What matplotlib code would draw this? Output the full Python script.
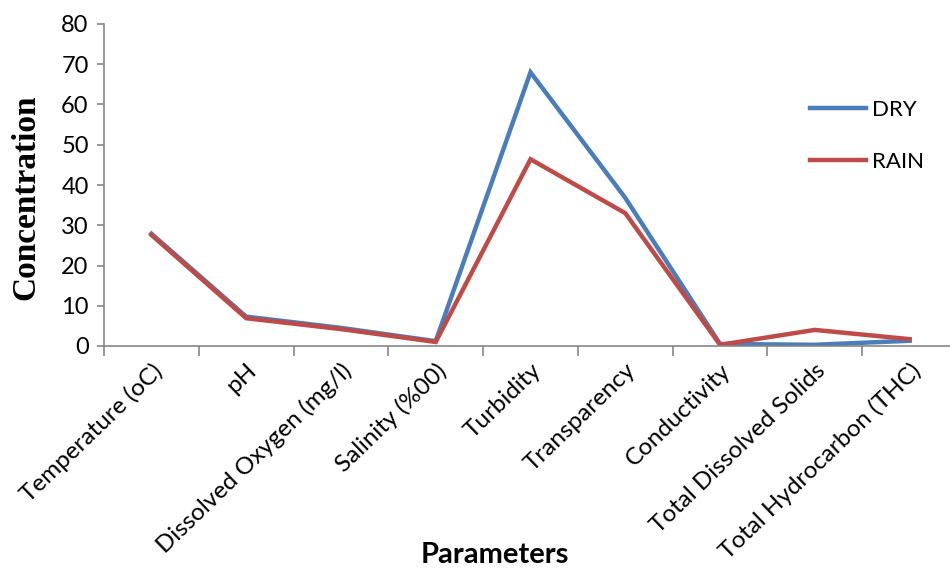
import matplotlib
matplotlib.use("Agg")
import matplotlib.pyplot as plt

categories = ["Temperature (oC)", "pH", "Dissolved Oxygen (mg/l)", "Salinity (%00)",
              "Turbidity", "Transparency", "Conductivity", "Total Dissolved Solids",
              "Total Hydrocarbon (THC)"]
dry = [27.9, 7.3, 4.5, 1.2, 68.0, 36.8, 0.5, 0.3, 1.3]
rain = [27.6, 6.9, 4.2, 1.0, 46.4, 33.0, 0.3, 4.0, 1.7]
yticks = [0, 10, 20, 30, 40, 50, 60, 70, 80]

plt.rcParams['font.family'] = ['Lato', 'DejaVu Sans']

fig = plt.figure(figsize=(9.5, 5.74), dpi=100)
ax = fig.add_axes([104/950, 1-346/574, (957-104)/950, (346-24)/574])

x = list(range(len(categories)))
ax.plot(x, dry, color='#4A7EBB', lw=3.2, label='DRY', solid_joinstyle='miter')
ax.plot(x, rain, color='#BE4B48', lw=3.2, label='RAIN', solid_joinstyle='miter')

ax.set_xlim(-0.5, len(categories) - 0.5)
ax.set_ylim(0, 80)
ax.set_yticks(yticks)
ax.set_yticklabels([str(v) for v in yticks], fontsize=17)

ax.set_xticks([i - 0.5 for i in range(len(categories))])
ax.set_xticklabels([])
ax.set_xticks(x, minor=True)
ax.set_xticklabels(categories, minor=True, rotation=44, ha='right',
                   rotation_mode='anchor', fontsize=17.5)
ax.tick_params(axis='x', which='minor', length=0, pad=10)
ax.tick_params(axis='x', which='major', length=7, color='#868686', width=1.2)
ax.tick_params(axis='y', length=5, color='#868686', width=1.2, pad=6)

for s in ['top', 'right']:
    ax.spines[s].set_visible(False)
for s in ['left', 'bottom']:
    ax.spines[s].set_color('#868686')
    ax.spines[s].set_linewidth(1.2)

fig.text(26/950, 1-197/574, 'Concentration', family='Liberation Serif',
         fontweight='bold', fontsize=24, rotation=90, ha='center', va='center')
fig.text(495/950, 1-555/574, 'Parameters', ha='center', va='center',
         fontsize=21, fontweight='bold',
         family=['Liberation Sans Narrow', 'Lato', 'DejaVu Sans'])

leg = ax.legend(loc='upper left', bbox_to_anchor=(790/950, 1-80/574),
                bbox_transform=fig.transFigure, frameon=False, fontsize=16,
                handlelength=2.5, handletextpad=0.3, labelspacing=1.45)

fig.savefig('out.png', dpi=100)
